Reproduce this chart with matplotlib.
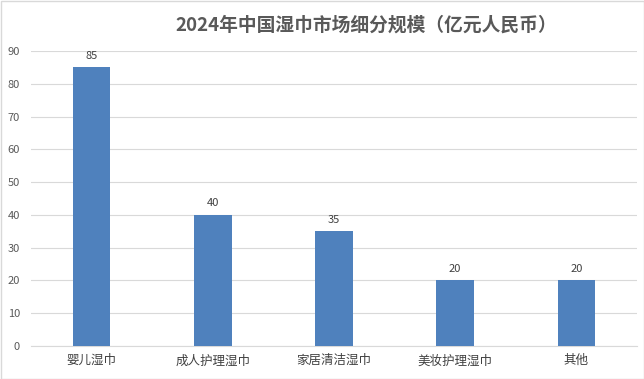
import matplotlib
matplotlib.use("Agg")
import matplotlib.pyplot as plt
from matplotlib.patches import Rectangle

plt.rcParams['font.family'] = ['Noto Sans CJK SC', 'DejaVu Sans']

categories = ["婴儿湿巾", "成人护理湿巾", "家居清洁湿巾", "美妆护理湿巾", "其他"]
values = [85, 40, 35, 20, 20]
yticks = [0, 10, 20, 30, 40, 50, 60, 70, 80, 90]
title = "2024年中国湿巾市场细分规模（亿元人民币）"

W, H = 644, 379
fig = plt.figure(figsize=(W/100, H/100), dpi=100)
ax = fig.add_axes([31/W, 1-346/H, (637-31)/W, (346-51)/H])

x = list(range(len(categories)))
bars = ax.bar(x, values, width=0.31, color="#4F81BD", zorder=3)
for xi, v in zip(x, values):
    ax.text(xi, v + 2.0, str(v), ha="center", va="bottom", fontsize=8, color="#404040")

ax.set_xlim(-0.5, len(categories) - 0.5)
ax.set_ylim(0, 90)
ax.set_yticks(yticks)
ax.set_yticklabels([str(t) for t in yticks], fontsize=8, color="#595959")
ax.set_xticks(x)
ax.set_xticklabels(categories, fontsize=9, color="#404040")
ax.tick_params(axis="both", length=0, pad=6)
ax.tick_params(axis="y", pad=8)
ax.grid(axis="y", color="#D9D9D9", linewidth=0.8, zorder=0)
for s in ["top", "right", "left"]:
    ax.spines[s].set_visible(False)
ax.spines["bottom"].set_color("#D9D9D9")

fig.text(366/W, 1-25/H, title, ha="center", va="center", fontsize=13.5,
         fontweight="bold", color="#595959")

fig.patches.append(Rectangle((0.5/W, 0.5/H), 1-1/W, 1-1/H, transform=fig.transFigure,
                             fill=False, edgecolor="#D9D9D9", linewidth=1))

fig.savefig("out.png", dpi=100)
